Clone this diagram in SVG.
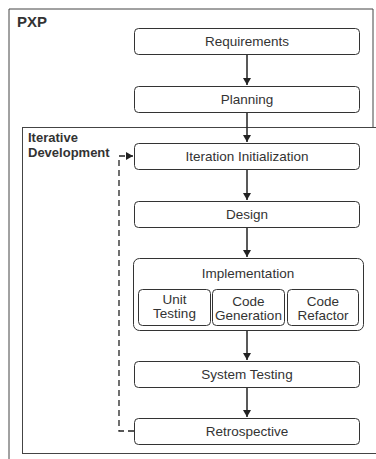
<svg xmlns="http://www.w3.org/2000/svg" width="376" height="459" viewBox="0 0 376 459">
<defs>
<style>
.frame{fill:none;stroke:#444;stroke-width:1}
.box{fill:#fff;stroke:#333;stroke-width:1}
.t{font-family:"Liberation Sans",Arial,sans-serif;font-size:13.5px;fill:#333;text-anchor:middle}
.lbl{font-family:"Liberation Sans",Arial,sans-serif;font-weight:bold;fill:#333}
.edge{stroke:#222;stroke-width:1.5;fill:none}
.dash{stroke:#222;stroke-width:1.3;fill:none;stroke-dasharray:6,4}
</style>
<marker id="ah" markerWidth="8" markerHeight="8" refX="7" refY="4" orient="auto" markerUnits="userSpaceOnUse">
<path d="M0,0 L7,4 L0,8 Z" fill="#222"/>
</marker>
</defs>
<rect width="376" height="459" fill="#fff"/>
<g id="pxp">
<path class="frame" d="M9,470 V9 H373 V127"/>
<text class="lbl" x="17" y="27" font-size="15">PXP</text>
</g>
<g id="iterative">
<rect class="frame" x="22.5" y="127.5" width="360" height="326"/>
<text class="lbl" x="28" y="142" font-size="13">Iterative</text>
<text class="lbl" x="28" y="157" font-size="13">Development</text>
</g>
<g id="connectors">
<line class="edge" x1="247" y1="54" x2="247" y2="85" marker-end="url(#ah)"/>
<line class="edge" x1="247" y1="112" x2="247" y2="142" marker-end="url(#ah)"/>
<line class="edge" x1="247" y1="169" x2="247" y2="200" marker-end="url(#ah)"/>
<line class="edge" x1="247" y1="227" x2="247" y2="257" marker-end="url(#ah)"/>
<line class="edge" x1="247" y1="330" x2="247" y2="360" marker-end="url(#ah)"/>
<line class="edge" x1="247" y1="387" x2="247" y2="417" marker-end="url(#ah)"/>
<path class="dash" d="M134,431 H119 V156 H133" marker-end="url(#ah)"/>
</g>
<g id="requirements">
<rect class="box" x="134.5" y="28.5" width="225" height="26" rx="4"/>
<text class="t" x="247" y="46">Requirements</text>
</g>
<g id="planning">
<rect class="box" x="134.5" y="86.5" width="225" height="26" rx="4"/>
<text class="t" x="247" y="104">Planning</text>
</g>
<g id="iteration-initialization">
<rect class="box" x="134.5" y="143.5" width="225" height="26" rx="4"/>
<text class="t" x="247" y="161">Iteration Initialization</text>
</g>
<g id="design">
<rect class="box" x="134.5" y="201.5" width="225" height="26" rx="4"/>
<text class="t" x="247" y="219">Design</text>
</g>
<g id="implementation">
<rect class="box" x="133.5" y="258.5" width="230" height="72" rx="6"/>
<text class="t" x="248" y="278">Implementation</text>
</g>
<g id="unit-testing">
<rect class="box" x="138.5" y="289.5" width="72" height="36" rx="4"/>
<text class="t" x="174.5" y="304">Unit</text>
<text class="t" x="174.5" y="318">Testing</text>
</g>
<g id="code-generation">
<rect class="box" x="212.5" y="289.5" width="72" height="36" rx="4"/>
<text class="t" x="248.5" y="306">Code</text>
<text class="t" x="248.5" y="320">Generation</text>
</g>
<g id="code-refactor">
<rect class="box" x="287.5" y="289.5" width="71" height="36" rx="4"/>
<text class="t" x="323" y="306">Code</text>
<text class="t" x="323" y="320">Refactor</text>
</g>
<g id="system-testing">
<rect class="box" x="134.5" y="361.5" width="225" height="26" rx="4"/>
<text class="t" x="247" y="379">System Testing</text>
</g>
<g id="retrospective">
<rect class="box" x="134.5" y="418.5" width="225" height="26" rx="4"/>
<text class="t" x="247" y="436">Retrospective</text>
</g>
</svg>
